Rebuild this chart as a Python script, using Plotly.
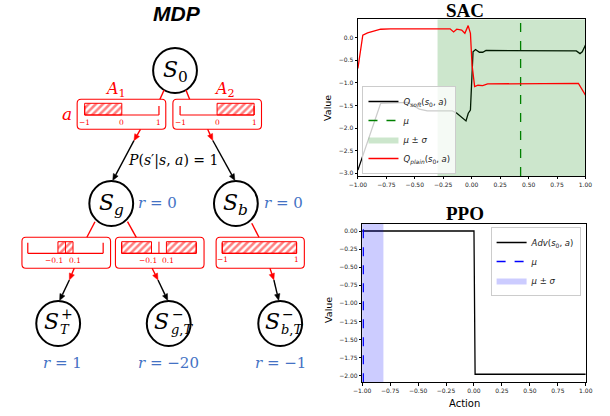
import numpy as np
import plotly.graph_objects as go

# ---------------- chart data ----------------
sac_action_soft = [-1.00, -0.80, -0.56, -0.515, -0.46, -0.39, -0.17, -0.13, -0.09, -0.05,
                   -0.03, -0.011, 0.0, 0.012, 0.034, 0.068, 0.097, 0.126, 0.92, 0.952, 0.972, 1.00]
sac_q_soft = [-2.93, -1.45, -1.43, -1.49, -1.58, -1.62, -1.62, -1.67, -1.75, -1.84,
              -1.67, -1.60, -0.97, -0.31, -0.26, -0.32, -0.32, -0.28, -0.29, -0.35, -0.31, -0.16]
sac_action_plain = [-1.00, -0.957, -0.915, -0.80, -0.715, -0.19, -0.159, -0.131, -0.088, -0.06,
                    -0.031, -0.011, 0.003, 0.026, 0.055, 0.097, 0.14, 0.938, 1.00]
sac_q_plain = [-0.68, 0.06, 0.11, 0.19, 0.20, 0.20, 0.13, 0.19, 0.17, 0.10,
               0.27, 0.10, -0.60, -1.08, -1.05, -1.06, -1.02, -1.01, -1.27]
sac_mu = 0.43
sac_sigma = 0.73

ppo_action = [-1.00, 0.00, 0.01, 1.00]
ppo_adv = [0.00, 0.00, -1.98, -1.98]
ppo_mu = -0.99
ppo_sigma = 0.18

sac_xticks = [-1.0, -0.75, -0.5, -0.25, 0.0, 0.25, 0.5, 0.75, 1.0]
sac_yticks = [0.0, -0.5, -1.0, -1.5, -2.0, -2.5, -3.0]
ppo_xticks = [-1.0, -0.75, -0.5, -0.25, 0.0, 0.25, 0.5, 0.75, 1.0]
ppo_yticks = [0.0, -0.25, -0.5, -0.75, -1.0, -1.25, -1.5, -1.75, -2.0]
sac_xrange = [-1.0, 1.0]
sac_yrange = [-3.06, 0.41]
ppo_xrange = [-1.0, 1.0]
ppo_yrange = [-2.091, 0.097]

# MDP content
rewards_mid = ["0", "0"]
rewards_term = ["1", "\u221220", "\u22121"]

# ---------------- figure geometry ----------------
W, H = 610, 416
def pxx(x): return x / W
def pyy(y): return 1 - y / H

RED = "#ff0000"
BLUE = "#4472c4"
MATH = "DejaVu Serif"

fig = go.Figure()

# ---- SAC ----
fig.add_trace(go.Scatter(x=sac_action_soft, y=sac_q_soft, mode="lines",
                         line=dict(color="black", width=1.3),
                         name="<i>Q</i><sub><i>soft</i></sub>(<i>s</i><sub>0</sub>, <i>a</i>)",
                         xaxis="x", yaxis="y", legend="legend"))
fig.add_trace(go.Scatter(x=[sac_mu, sac_mu], y=sac_yrange, mode="lines",
                         line=dict(color="green", width=1.3, dash="dash"),
                         name="<i>μ</i>", xaxis="x", yaxis="y", legend="legend"))
lo, hi = sac_mu - sac_sigma, sac_mu + sac_sigma
fig.add_trace(go.Scatter(x=[lo, hi, hi, lo, lo],
                         y=[sac_yrange[0], sac_yrange[0], sac_yrange[1], sac_yrange[1], sac_yrange[0]],
                         mode="lines", fill="toself", fillcolor="rgba(0,128,0,0.2)",
                         line=dict(width=0, color="rgba(0,128,0,0.2)"),
                         name="<i>μ</i> ± <i>σ</i>", xaxis="x", yaxis="y", legend="legend"))
fig.add_trace(go.Scatter(x=sac_action_plain, y=sac_q_plain, mode="lines",
                         line=dict(color="red", width=1.3),
                         name="<i>Q</i><sub><i>plain</i></sub>(<i>s</i><sub>0</sub>, <i>a</i>)",
                         xaxis="x", yaxis="y", legend="legend"))

# ---- PPO ----
fig.add_trace(go.Scatter(x=ppo_action, y=ppo_adv, mode="lines",
                         line=dict(color="black", width=1.3),
                         name="<i>Adv</i>(<i>s</i><sub>0</sub>, <i>a</i>)",
                         xaxis="x2", yaxis="y2", legend="legend2"))
fig.add_trace(go.Scatter(x=[ppo_mu, ppo_mu], y=ppo_yrange, mode="lines",
                         line=dict(color="blue", width=1.3, dash="dash"),
                         name="<i>μ</i>", xaxis="x2", yaxis="y2", legend="legend2"))
lo2, hi2 = ppo_mu - ppo_sigma, ppo_mu + ppo_sigma
fig.add_trace(go.Scatter(x=[lo2, hi2, hi2, lo2, lo2],
                         y=[ppo_yrange[0], ppo_yrange[0], ppo_yrange[1], ppo_yrange[1], ppo_yrange[0]],
                         mode="lines", fill="toself", fillcolor="rgba(0,0,255,0.2)",
                         line=dict(width=0, color="rgba(0,0,255,0.2)"),
                         name="<i>μ</i> ± <i>σ</i>", xaxis="x2", yaxis="y2", legend="legend2"))

# ---------------- MDP diagram (pixel-space drawing on hidden axis) ----------------
shapes = []
annotations = []

def line(x0, y0, x1, y1, color, width=1.4):
    shapes.append(dict(type="line", xref="x3", yref="y3", x0=x0, y0=y0, x1=x1, y1=y1,
                       line=dict(color=color, width=width)))

def arrow(x0, y0, x1, y1, color, head=6.5, half=2.8):
    d = np.array([x1 - x0, y1 - y0], dtype=float)
    L = np.hypot(*d)
    u = d / L
    n = np.array([-u[1], u[0]])
    base = np.array([x1, y1]) - u * head
    line(x0, y0, base[0], base[1], color, 1.4)
    p1 = base + n * half
    p2 = base - n * half
    path = f"M{x1},{y1} L{p1[0]:.2f},{p1[1]:.2f} L{p2[0]:.2f},{p2[1]:.2f} Z"
    shapes.append(dict(type="path", xref="x3", yref="y3", path=path,
                       line=dict(color=color, width=0.5), fillcolor=color))

def txt(x, y, text, size, color="black", family=MATH, xanchor="center", yanchor="middle", xshift=0):
    annotations.append(dict(x=x, y=y, xref="x3", yref="y3", text=text, showarrow=False,
                            xanchor=xanchor, yanchor=yanchor, xshift=xshift,
                            font=dict(size=size, color=color, family=family)))

def rrect(x0, y0, x1, y1, r=4):
    p = (f"M{x0+r},{y0} L{x1-r},{y0} Q{x1},{y0} {x1},{y0+r} L{x1},{y1-r} Q{x1},{y1} {x1-r},{y1} "
         f"L{x0+r},{y1} Q{x0},{y1} {x0},{y1-r} L{x0},{y0+r} Q{x0},{y0} {x0+r},{y0} Z")
    shapes.append(dict(type="path", xref="x3", yref="y3", path=p,
                       line=dict(color=RED, width=1.1), fillcolor="rgba(0,0,0,0)"))

R = 22.5
nodes = {
    "s0": (170.5, 70.5), "sg": (105, 203.5), "sb": (233, 203.5),
    "tp": (50.5, 323.5), "tg": (164, 323.5), "tb": (278.5, 323.5),
}
for k, (cx, cy) in nodes.items():
    shapes.append(dict(type="circle", xref="x3", yref="y3", x0=cx - R, x1=cx + R,
                       y0=cy - R, y1=cy + R, line=dict(color="black", width=2),
                       fillcolor="white"))

# node labels
for k, sub in [("s0", "0"), ("sg", "<i>g</i>"), ("sb", "<i>b</i>")]:
    cx, cy = nodes[k]
    txt(cx, cy + 1, f"<i>S</i><sub>{sub}</sub>", 22)
for k, sup, sub, sdx in [("tp", "+", "<i>T</i>", -7), ("tg", "\u2212", "<i>g</i>,<i>T</i>", -7),
                         ("tb", "\u2212", "<i>b</i>,<i>T</i>", -8)]:
    cx, cy = nodes[k]
    txt(cx + sdx, cy - 2, "<i>S</i>", 22)
    txt(cx + sdx + 8, cy - 10, sup, 14, xanchor="left")
    txt(cx + sdx + 7, cy + 6, sub, 13, xanchor="left")

# action boxes
def amap(v, x0, x1):
    f = np.interp(v, [-1, -0.1, 0.1, 1], [0, 0.4, 0.6, 1])
    return x0 + f * (x1 - x0)

boxes = [
    dict(box=(70, 99.3, 161, 129.3), ax=(77.7, 154, 115), tick_top=106, hatch_top=103.3,
         hatch=[(-1, 0)], center=False, labels=[(-1, "\u22121"), (0, "0"), (1, "1")], ly=122.5),
    dict(box=(168.3, 99.3, 259.3, 129.3), ax=(175.7, 251.7, 115), tick_top=106, hatch_top=103.3,
         hatch=[(0, 1)], center=False, labels=[(-1, "\u22121"), (0, "0"), (1, "1")], ly=122.5),
    dict(box=(13.3, 237.3, 104.3, 268.3), ax=(19.3, 96.7, 253.3), tick_top=242.7, hatch_top=241.7,
         hatch=[(-0.1, 0.1)], center=True, labels=[(-0.1, "\u22120.1"), (0.1, "0.1")], ly=260.5),
    dict(box=(109.3, 237.3, 200.3, 268.3), ax=(115.7, 192.3, 253.3), tick_top=242.7, hatch_top=241.7,
         hatch=[(-1, -0.1), (0.1, 1)], center=True, labels=[(-0.1, "\u22120.1"), (0.1, "0.1")], ly=260.5),
    dict(box=(212.7, 237.3, 303.3, 268.3), ax=(219, 295.3, 253.3), tick_top=242.7, hatch_top=241.7,
         hatch=[(-1, 1)], center=False, labels=[(-1, "\u22121"), (1, "1")], ly=259.5),
]
for b in boxes:
    rrect(*b["box"])
    x0, x1, yax = b["ax"]
    for (h0, h1) in b["hatch"]:
        hx0, hx1 = amap(h0, x0, x1), amap(h1, x0, x1)
        fig.add_trace(go.Scatter(x=[hx0, hx1, hx1, hx0, hx0],
                                 y=[b["hatch_top"], b["hatch_top"], yax, yax, b["hatch_top"]],
                                 mode="lines", fill="toself", fillcolor="white",
                                 fillpattern=dict(shape="/", fgcolor=RED, bgcolor="white",
                                                  size=5, solidity=0.5),
                                 line=dict(color=RED, width=1), showlegend=False,
                                 hoverinfo="skip", xaxis="x3", yaxis="y3"))
    line(x0, yax, x1, yax, RED, 1.2)
    line(x0, b["tick_top"], x0, yax, RED, 1.2)
    line(x1, b["tick_top"], x1, yax, RED, 1.2)
    if b["center"]:
        cxm = amap(0, x0, x1)
        line(cxm, b["hatch_top"], cxm, yax, RED, 1)
    for v, lab in b["labels"]:
        sh = -4 if lab.startswith("\u22120") else (1.5 if lab == "0.1" else 0)
        txt(amap(v, x0, x1), b["ly"], lab, 7.5, RED, xshift=sh)

# connectors
line(159.3, 90, 155, 99.3, RED)
line(181.7, 90, 185.5, 99.3, RED)
line(88.3, 221.7, 80, 237.3, RED)
line(121.7, 221.7, 130.7, 237.3, RED)
line(249.3, 223.3, 256.7, 237.3, RED)
arrow(135, 129.3, 128.3, 140.7, RED)
arrow(204, 129.3, 209.3, 140.5, RED)
arrow(67, 268.3, 62, 280, RED)
arrow(147, 268.3, 153, 280, RED)
arrow(268, 268.3, 272, 280, RED)
arrow(128.3, 140.7, 106.5, 180.5, "black")
arrow(209.3, 140.5, 232, 180.5, "black")
arrow(62, 280, 52, 300.5, "black")
arrow(153, 280, 163, 300.5, "black")
arrow(272, 280, 277, 300.5, "black")

# diagram texts
txt(109.3, 89.3, "<i>A</i><sub>1</sub>", 16, RED)
txt(221.7, 89.3, "<i>A</i><sub>2</sub>", 16, RED)
txt(59.3, 114, "<i>a</i>", 17, RED)
txt(168.3, 160, "<i>P</i>(<i>s</i>\u2032|<i>s</i>, <i>a</i>) = 1", 14)
txt(152.7, 203, f"<i>r</i> = {rewards_mid[0]}", 15, BLUE)
txt(281.7, 203, f"<i>r</i> = {rewards_mid[1]}", 15, BLUE)
for (k, rv) in zip(["tp", "tg", "tb"], rewards_term):
    cx, _ = nodes[k]
    txt(cx + 4 if k == "tp" else cx, 363.3, f"<i>r</i> = {rv}", 15, BLUE)

# titles and axis labels (paper coords)
def ptxt(x, y, text, size, family, color="black", angle=0):
    annotations.append(dict(x=pxx(x), y=pyy(y), xref="paper", yref="paper", text=text,
                            showarrow=False, xanchor="center", yanchor="middle", textangle=angle,
                            font=dict(size=size, family=family, color=color)))

ptxt(173, 13, "<b><i>MDP</i></b>", 21, "Liberation Sans")
ptxt(468, 10, "<b>SAC</b>", 19, "Liberation Serif")
ptxt(468, 214, "<b>PPO</b>", 19, "Liberation Serif")
ptxt(327.5, 108, "Value", 9.5, "DejaVu Sans", angle=-90)
ptxt(327.5, 310, "Value", 9.5, "DejaVu Sans", angle=-90)
ptxt(468, 403, "Action", 10, "DejaVu Sans")

tickfont = dict(size=6, family="DejaVu Sans", color="#222")
axstyle = dict(showline=True, mirror=True, linecolor="black", linewidth=0.8, showgrid=False,
               zeroline=False, ticks="outside", ticklen=2.5, tickwidth=0.8, tickcolor="black",
               tickfont=tickfont, fixedrange=True)

legend_style = dict(bgcolor="rgba(255,255,255,0.8)", bordercolor="#cccccc", borderwidth=1,
                    font=dict(size=8.5, family="DejaVu Sans", color="#222"),
                    itemwidth=30, tracegroupgap=0)

fig.update_layout(
    width=W, height=H, margin=dict(l=0, r=0, t=0, b=0),
    paper_bgcolor="white", plot_bgcolor="white",
    xaxis=dict(domain=[358.3 / W, 592 / W], anchor="y", range=sac_xrange,
               tickvals=sac_xticks, tickformat=".2f", **axstyle),
    yaxis=dict(domain=[pyy(176), pyy(19.3)], anchor="x", range=sac_yrange,
               tickvals=sac_yticks, tickformat=".1f", **axstyle),
    xaxis2=dict(domain=[362.7 / W, 592.3 / W], anchor="y2", range=ppo_xrange,
                tickvals=ppo_xticks, tickformat=".2f", **axstyle),
    yaxis2=dict(domain=[pyy(382.3), pyy(224)], anchor="x2", range=ppo_yrange,
                tickvals=ppo_yticks, tickformat=".2f", **axstyle),
    xaxis3=dict(domain=[0, 305 / W], anchor="y3", range=[0, 305], visible=False, fixedrange=True),
    yaxis3=dict(domain=[0, 1], anchor="x3", range=[H, 0], visible=False, fixedrange=True),
    legend=dict(x=pxx(363), y=pyy(174), xanchor="left", yanchor="bottom", **legend_style),
    legend2=dict(x=pxx(587), y=pyy(227), xanchor="right", yanchor="top", **legend_style),
    shapes=shapes, annotations=annotations, showlegend=True,
)

fig.write_html("out.html", config={"displayModeBar": False},
               post_script="document.body.style.margin='0';document.body.style.overflow='hidden';")
